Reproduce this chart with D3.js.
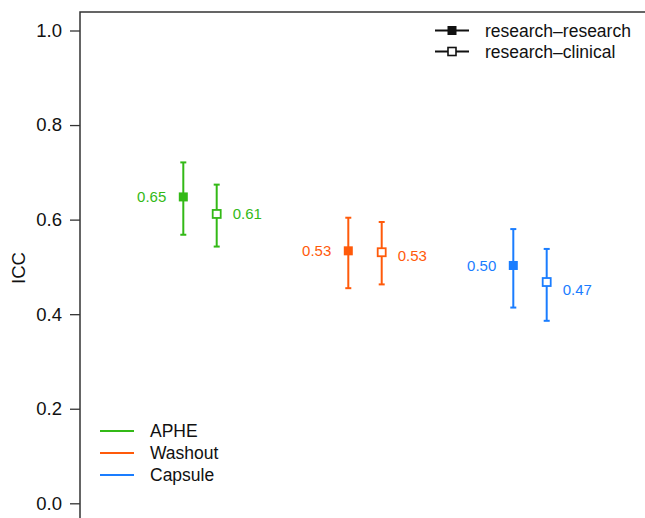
<!DOCTYPE html>
<html><head><meta charset="utf-8">
<script src="https://cdn.jsdelivr.net/npm/d3@7"></script>
<style>body{margin:0;background:#fff}svg{display:block;font-family:"Liberation Sans",Arial,Helvetica,sans-serif}</style>
</head><body>
<script>
const groups = ["APHE", "Washout", "Capsule"];
const types = ["research\u2013research", "research\u2013clinical"];
const icc = [[0.648, 0.612], [0.534, 0.531], [0.503, 0.468]];
const lower = [[0.568, 0.543], [0.455, 0.463], [0.414, 0.386]];
const upper = [[0.721, 0.674], [0.604, 0.595], [0.580, 0.538]];
const yTicks = [0.0, 0.2, 0.4, 0.6, 0.8, 1.0];
const colors = ["#33b916", "#ff5a0a", "#1a7dff"];

const W = 645, H = 518;
const svg = d3.select("body").append("svg").attr("width", W).attr("height", H);
const y = d3.scaleLinear().domain([0, 1]).range([503.3, 30.5]);
const x = d3.scalePoint().domain(groups).range([200, 530]);
const xo = d3.scalePoint().domain(types).range([-16.7, 16.7]);
const color = d3.scaleOrdinal().domain(groups).range(colors);

// frame (top and left)
svg.append("path").attr("d", "M80,518V12H645").attr("fill", "none").attr("stroke", "#333").attr("stroke-width", 1.5);

const ax = svg.append("g").attr("transform", "translate(80,0)")
  .call(d3.axisLeft(y).tickValues(yTicks).tickFormat(d3.format(".1f")).tickSize(10).tickPadding(8));
ax.select(".domain").remove();
ax.selectAll(".tick line").attr("stroke", "#333").attr("stroke-width", 1.3);
ax.selectAll(".tick text").attr("font-size", 18.5).attr("fill", "#111").attr("font-family", "Liberation Sans, Arial, sans-serif");

svg.append("text").attr("transform", "translate(25,268) rotate(-90)").attr("text-anchor", "middle")
  .attr("font-size", 18.5).attr("fill", "#111").text("ICC");

const pts = [];
groups.forEach((g, gi) => types.forEach((t, ti) => pts.push({g, t, ti, v: icc[gi][ti], lo: lower[gi][ti], hi: upper[gi][ti]})));
const labelNudge = {"Capsule": 8, "Washout": 3.5};

const pg = svg.append("g").selectAll("g").data(pts).join("g")
  .attr("transform", d => `translate(${x(d.g) + xo(d.t)},0)`);
pg.append("line").attr("y1", d => y(d.lo)).attr("y2", d => y(d.hi))
  .attr("stroke", d => color(d.g)).attr("stroke-width", 2);
pg.append("line").attr("x1", -3).attr("x2", 3).attr("y1", d => y(d.lo)).attr("y2", d => y(d.lo))
  .attr("stroke", d => color(d.g)).attr("stroke-width", 2);
pg.append("line").attr("x1", -3).attr("x2", 3).attr("y1", d => y(d.hi)).attr("y2", d => y(d.hi))
  .attr("stroke", d => color(d.g)).attr("stroke-width", 2);
pg.append("rect").attr("x", d => d.ti ? -4 : -4.5).attr("y", d => y(d.v) - (d.ti ? 4 : 4.5))
  .attr("width", d => d.ti ? 8 : 9).attr("height", d => d.ti ? 8 : 9)
  .attr("fill", d => d.ti ? "#fff" : color(d.g)).attr("stroke", d => color(d.g)).attr("stroke-width", d => d.ti ? 1.8 : 0);
pg.append("text")
  .attr("x", d => d.ti ? 16 : -17)
  .attr("y", d => y(d.v) + (d.ti ? (labelNudge[d.g] || 0) : 0))
  .attr("dy", "0.35em")
  .attr("text-anchor", d => d.ti ? "start" : "end")
  .attr("font-size", 15).attr("fill", d => color(d.g))
  .text(d => d3.format(".2f")(d.v));

// legend: types (top right)
const lt = svg.append("g").selectAll("g").data(types).join("g")
  .attr("transform", (d, i) => `translate(435,${30.5 + i * 21})`);
lt.append("line").attr("x1", 0).attr("x2", 34).attr("stroke", "#111").attr("stroke-width", 2);
lt.append("rect").attr("x", (d, i) => i ? 13 : 12.5).attr("y", (d, i) => i ? -4 : -4.5)
  .attr("width", (d, i) => i ? 8 : 9).attr("height", (d, i) => i ? 8 : 9)
  .attr("fill", (d, i) => i ? "#fff" : "#111").attr("stroke", "#111").attr("stroke-width", (d, i) => i ? 1.6 : 0);
lt.append("text").attr("x", 50).attr("dy", "0.35em").attr("font-size", 17.5).attr("fill", "#111").text(d => d);

// legend: groups (bottom left)
const lg = svg.append("g").selectAll("g").data(groups).join("g")
  .attr("transform", (d, i) => `translate(100,${431 + i * 22})`);
lg.append("line").attr("x1", 0).attr("x2", 34).attr("stroke", d => color(d)).attr("stroke-width", 2);
lg.append("text").attr("x", 50).attr("dy", "0.35em").attr("font-size", 17.5).attr("fill", "#111").text(d => d);
</script>
</body></html>
